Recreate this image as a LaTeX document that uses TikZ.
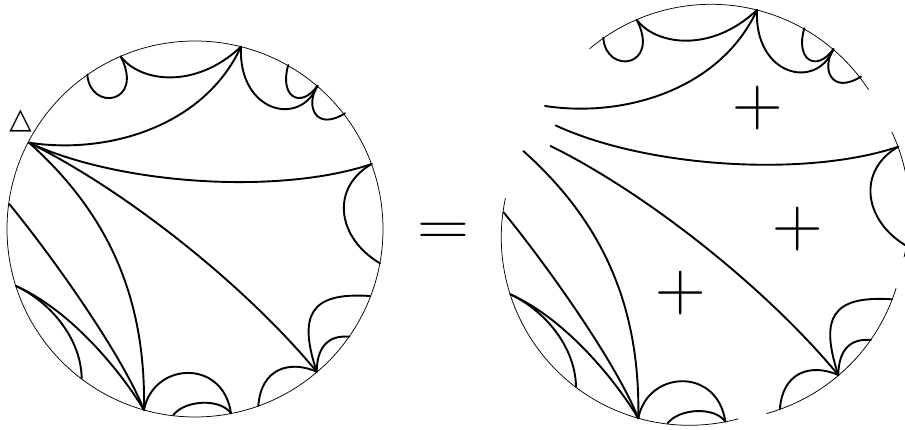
\documentclass[tikz,border=0pt]{standalone}
\usepackage{fontspec}
\newfontfamily\dejavu{DejaVu Sans}
\tikzset{
  geo/.style={line width=1.9pt, line cap=round, line join=round},
  bd/.style={line width=0.75pt},
  sign/.style={inner sep=0pt, outer sep=0pt}
}
% curves of the left disc (pixel coordinates, y downwards)
\newcommand\crvA{\draw[geo] (87.3,74.5) .. controls (90,112) and (145,104) .. (120.7,56.5);}
\newcommand\crvB{\draw[geo] (120.7,56.5) .. controls (140,82) and (195,90) .. (241,46.7);}
\newcommand\crvC{\draw[geo] (29,142.7) .. controls (110,155) and (205,125) .. (241,46.7);}
\newcommand\crvD{\draw[geo] (241,46.7) .. controls (238,112) and (300,128) .. (317.5,85.7);}
\newcommand\crvE{\draw[geo] (288.3,65) .. controls (279,96) and (300,110) .. (317.5,85.7);}
\newcommand\crvF{\draw[geo] (317.5,85.7) .. controls (305,105) and (315,132) .. (345,113.3);}
\newcommand\crvG{\draw[geo] (29,142.7) .. controls (120,185) and (280,195) .. (371.7,164);}
\newcommand\crvH{\draw[geo] (371.7,164) .. controls (330,188) and (337,238) .. (380,263.3);}
\newcommand\crvI{\draw[geo] (29,142.7) .. controls (110,215) and (146,300) .. (144,410);}
\newcommand\crvJ{\draw[geo] (29,142.7) .. controls (125,190) and (245,285) .. (316.7,371.7);}
\newcommand\crvK{\draw[geo] (9.3,204) .. controls (55,260) and (122,355) .. (144,410);}
\newcommand\crvL{\draw[geo] (16,286) .. controls (70,310) and (120,370) .. (144,410);}
\newcommand\crvM{\draw[geo] (16,286) .. controls (50,302) and (81,338) .. (81.7,378.3);}
\newcommand\crvN{\draw[geo] (144,410) .. controls (153,362) and (223,358) .. (231,413.3);}
\newcommand\crvO{\draw[geo] (173.3,415) .. controls (185,400) and (220,398) .. (231,413.3);}
\newcommand\crvP{\draw[geo] (258.3,406) .. controls (261,368) and (290,360) .. (316.7,371.7);}
\newcommand\crvQ{\draw[geo] (316.7,371.7) .. controls (298,315) and (310,292) .. (370,296);}
\newcommand\crvR{\draw[geo] (316.7,371.7) .. controls (317,345) and (330,335) .. (349.3,336.7);}
\begin{document}
\begin{tikzpicture}[x=1pt,y=-1pt]
\useasboundingbox (0,0) rectangle (905,430);
\clip (0,0) rectangle (905,430);
% ---------- left disc ----------
\draw[bd] (195,229) circle[radius=188];
\crvA \crvB \crvC \crvD \crvE \crvF \crvG \crvH \crvI
\crvJ \crvK \crvL \crvM \crvN \crvO \crvP \crvQ \crvR
\node[sign, font=\dejavu\bfseries\fontsize{29}{29}\selectfont] (tri) at (20.5,120.5) {△};
% ---------- equals sign ----------
\node[sign, anchor=base] (eq) at (443.3,245.7) {\scalebox{1}[0.87]{\fontsize{72}{72}\selectfont =}};
% ---------- right: the pieces, moved apart ----------
\begin{scope}[shift={(516,-36.7)}]
  \crvA \crvB \crvC \crvD \crvE \crvF
  \draw[bd] ([shift={(-130.2:188)}]195,229) arc[start angle=-130.2, end angle=-33.1, radius=188];
\end{scope}
\begin{scope}[shift={(526.6,-17.3)}]
  \crvG \crvH
  \draw[bd] ([shift={(-25.2:188)}]195,229) arc[start angle=-25.2, end angle=14, radius=188];
\end{scope}
\begin{scope}[shift={(521.6,3.3)}]
  \crvJ \crvP \crvQ \crvR
  \draw[bd] ([shift={(17.3:188)}]195,229) arc[start angle=17.3, end angle=74.6, radius=188];
\end{scope}
\begin{scope}[shift={(494.3,8.3)}]
  \crvI \crvK \crvL \crvM \crvN \crvO
  \draw[bd] ([shift={(192:188)}]195,229) arc[start angle=192, end angle=74.9, radius=188];
\end{scope}
\node[sign, font=\fontsize{70}{70}\selectfont] (p1) at (757.3,108.3) {+};
\node[sign, font=\fontsize{70}{70}\selectfont] (p2) at (797.5,229.2) {+};
\node[sign, font=\fontsize{70}{70}\selectfont] (p3) at (680.8,293.3) {+};
\end{tikzpicture}
\end{document}
